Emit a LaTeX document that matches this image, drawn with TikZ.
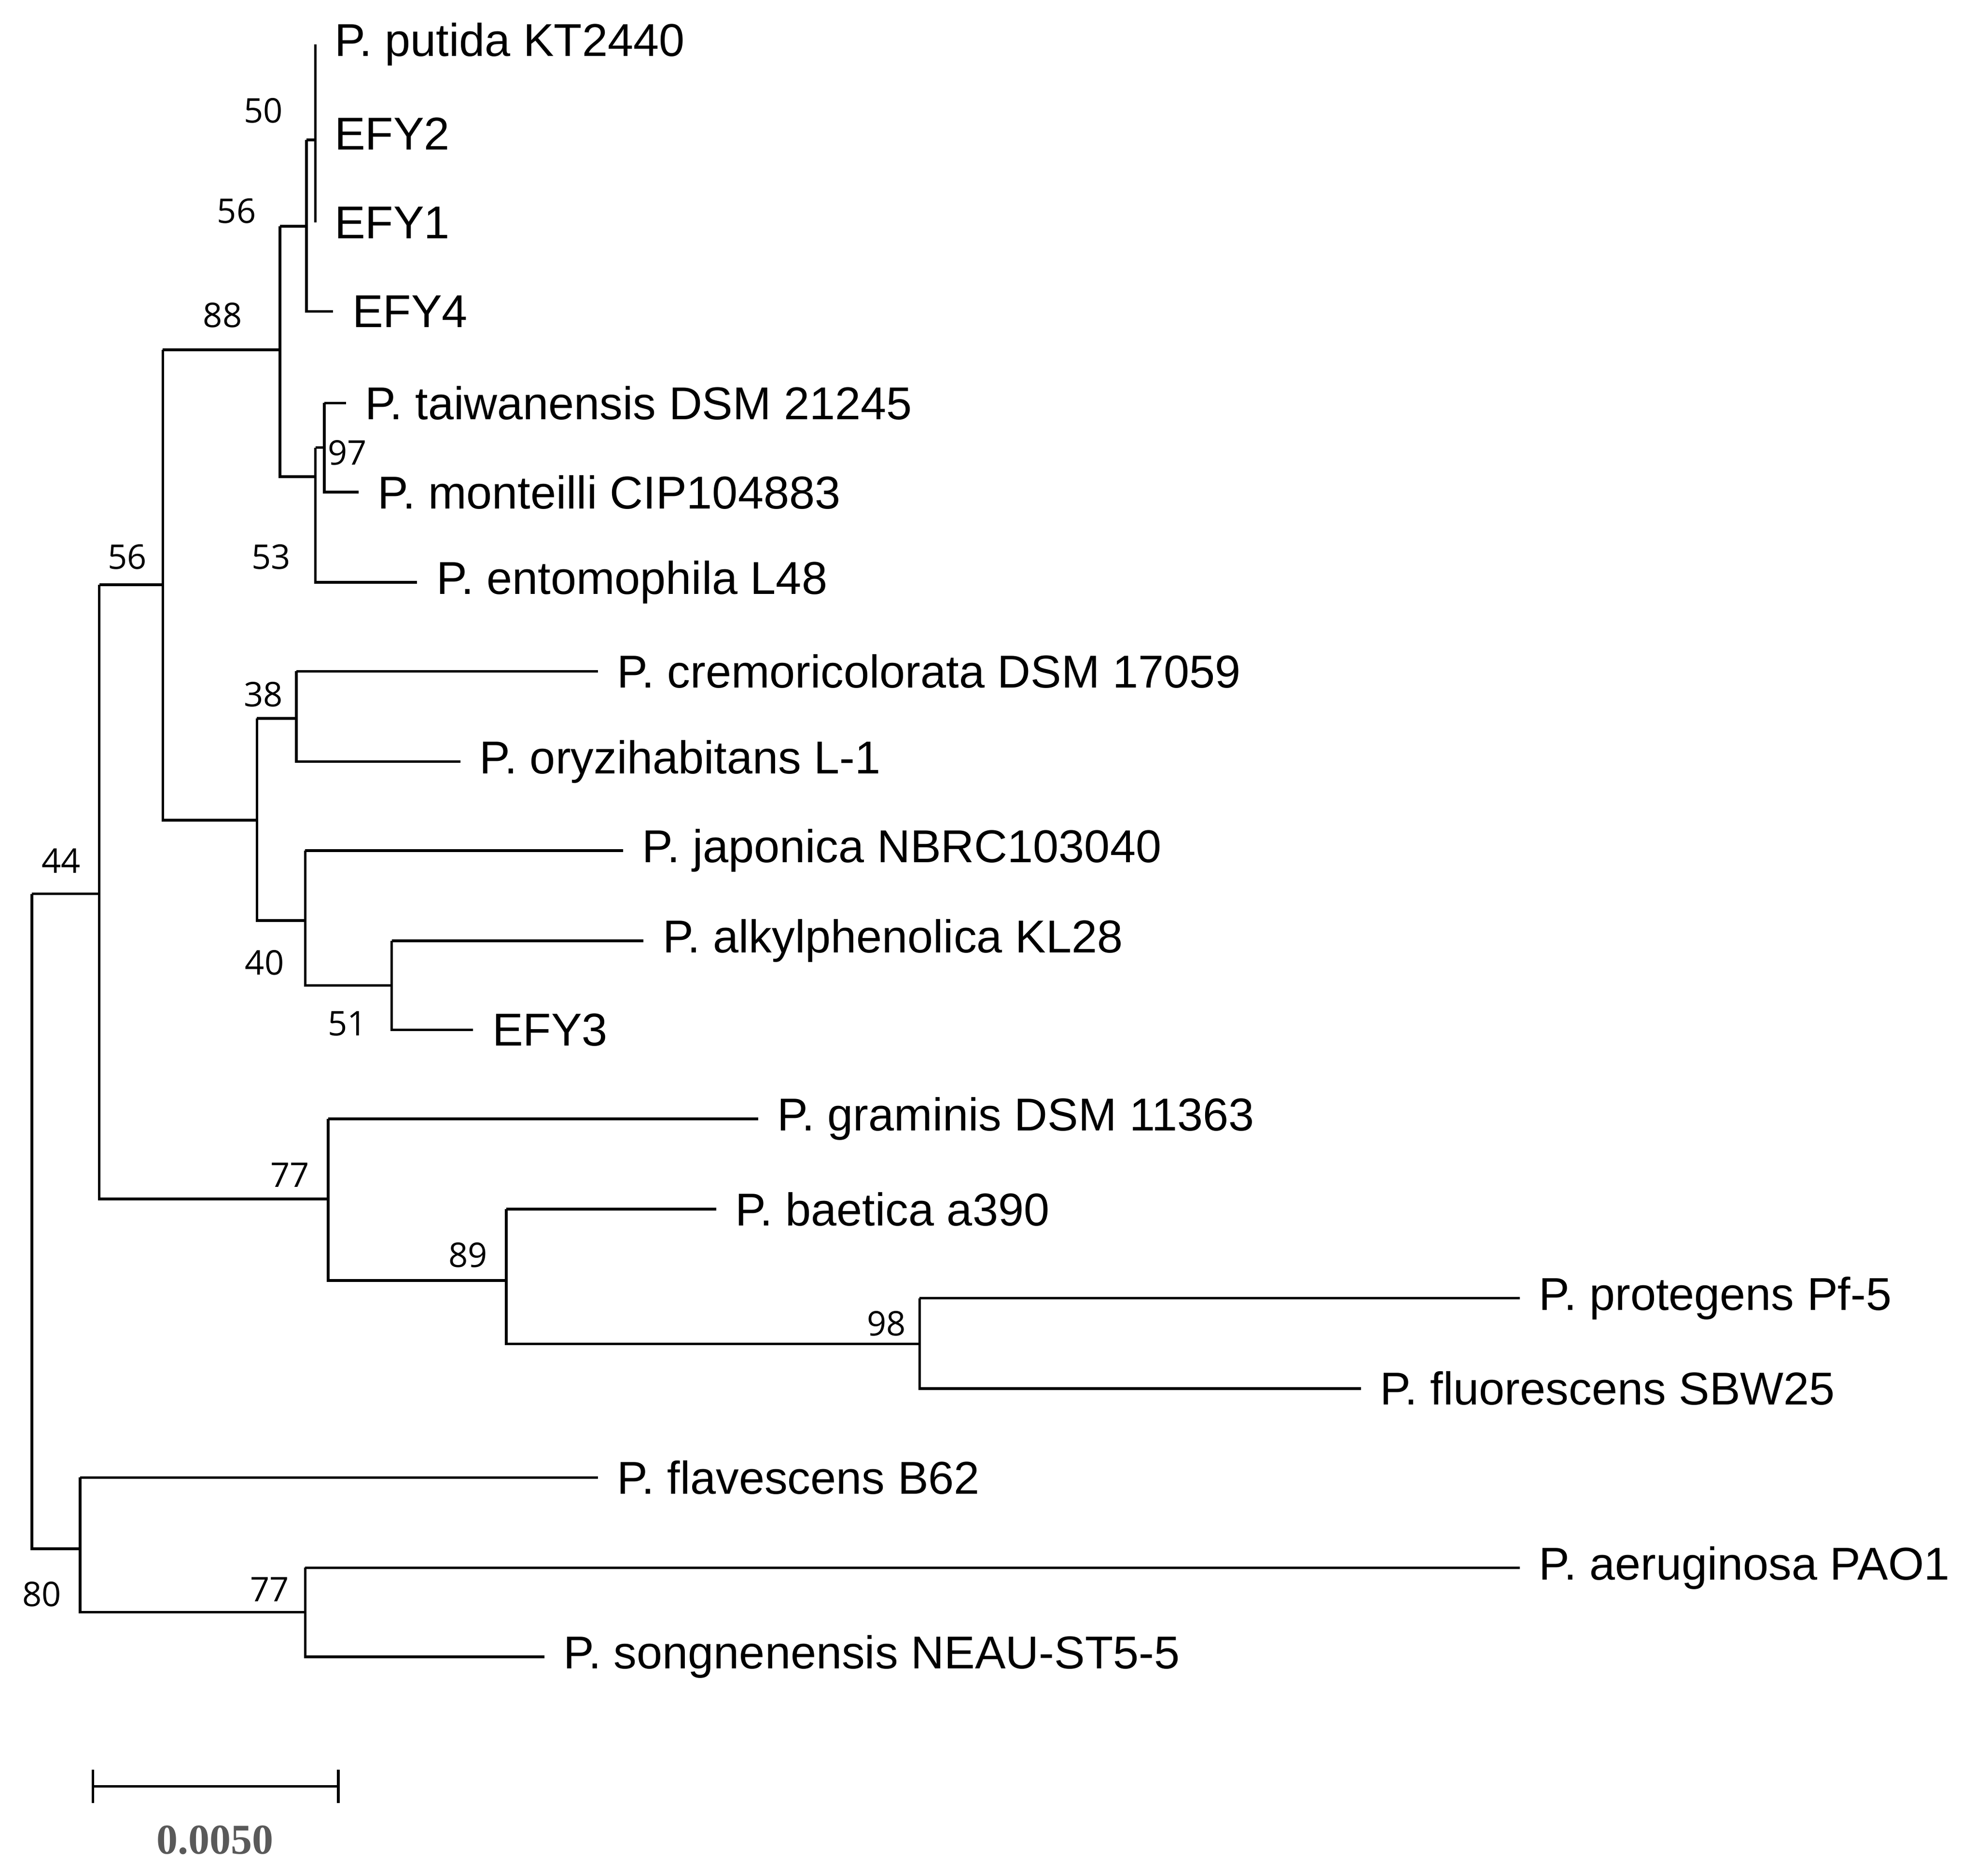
\documentclass[tikz,border=0pt]{standalone}
\usepackage{fontspec}
\setmainfont{Liberation Sans}
\newfontfamily\numf{Open Sans}
\newfontfamily\scalef{Liberation Serif}
\begin{document}
\begin{tikzpicture}[x=0.01cm,y=-0.01cm,line width=0.6pt,
 tip/.style={anchor=west,inner sep=0pt,font=\fontsize{10.3}{12}\selectfont},
 bs/.style={inner sep=0pt,font=\numf\fontsize{7.6}{9}\selectfont}]
\useasboundingbox (0,0) rectangle (1563,1472);
% tips
\foreach \n/\x/\y/\t in {a/248/35/P. putida KT2440, b/248/105/EFY2, c/248/175/EFY1, d/262/245/EFY4,
 e/272/317/P. taiwanensis DSM 21245, f/282/387/P. monteilli CIP104883, g/328/458/P. entomophila L48,
 h/470/528/P. cremoricolorata DSM 17059, i/362/599/P. oryzihabitans L-1, j/490/669/P. japonica NBRC103040,
 k/506/740/P. alkylphenolica KL28, l/372/810/EFY3, m/596/880/P. graminis DSM 11363, n/563/951/P. baetica a390,
 o/1195/1021/P. protegens Pf-5, p/1070/1092/P. fluorescens SBW25, q/470/1162/P. flavescens B62,
 r/1195/1233/P. aeruginosa PAO1, s/428/1303/P. songnenensis NEAU-ST5-5}
 { \coordinate (\n) at (\x,\y); \node[tip] (t\n) at (\x+14,\y) {\t}; }
% internal nodes
\coordinate (N50) at (248,110); \coordinate (N56a) at (241,178);
\coordinate (N97) at (255,352); \coordinate (N53) at (248,375);
\coordinate (N88) at (220,275);
\coordinate (N38) at (233,565); \coordinate (N51) at (308,775); \coordinate (N40a) at (240,724);
\coordinate (N40) at (202,645); \coordinate (N56) at (128,460);
\coordinate (N89) at (398,1007); \coordinate (N98) at (723,1057); \coordinate (N77) at (258,943);
\coordinate (N44) at (78,703); \coordinate (N77b) at (240,1268); \coordinate (N80) at (63,1218);
\coordinate (R) at (25,1218);
\newcommand\cl[2]{\draw (#1 |- #2) -- (#2);}
% putida group
\draw (a) -- (c);
\draw (N56a |- N50) -- (N50);
\draw (N56a |- N50) -- (N56a |- d) -- (d);
% 97/53
\draw (N97 |- e) -- (e); \draw (N97 |- e) -- (N97 |- f) -- (f);
\draw (N53 |- N97) -- (N97);
\draw (N53 |- N97) -- (N53 |- g) -- (g);
% 88
\draw (N88 |- N56a) -- (N56a |- N56a);
\draw (N88 |- N56a) -- (N88 |- N53) -- (N53);
% cremori group
\draw (N38 |- h) -- (h); \draw (N38 |- h) -- (N38 |- i) -- (i);
\draw (N51 |- k) -- (k); \draw (N51 |- k) -- (N51 |- l) -- (l);
\draw (N40a |- j) -- (j); \draw (N40a |- j) -- (N40a |- N51) -- (N51 |- N51);
\draw (N40 |- N38) -- (N38 |- N38); \draw (N40 |- N38) -- (N40 |- N40a) -- (N40a);
% 56
\draw (N56 |- N88) -- (N88); \draw (N56 |- N88) -- (N56 |- N40) -- (N40);
% graminis group
\draw (N98 |- o) -- (o); \draw (N98 |- o) -- (N98 |- p) -- (p);
\draw (N89 |- n) -- (n); \draw (N89 |- n) -- (N89 |- N98) -- (N98);
\draw (N77 |- m) -- (m); \draw (N77 |- m) -- (N77 |- N89) -- (N89);
% 44
\draw (N44 |- N56) -- (N56); \draw (N44 |- N56) -- (N44 |- N77) -- (N77);
% 80
\draw (N77b |- r) -- (r); \draw (N77b |- r) -- (N77b |- s) -- (s);
\draw (N80 |- q) -- (q); \draw (N80 |- q) -- (N80 |- N77b) -- (N77b);
\draw (R |- N44) -- (N44); \draw (R |- N44) -- (R) -- (N80);
% bootstrap labels
\foreach \x/\y/\v in {207/87/50,186/166/56,175/248/88,273/356/97,213/438/53,100/438/56,207/546/38,
 208/757/40,273/805/51,48/677/44,228/924/77,368/987/89,697/1041/98,33/1254/80,212/1250/77}
 \node[bs] (b\x) at (\x,\y) {\v};
% scale bar
\coordinate (s1) at (73,1405); \coordinate (s2) at (266,1405);
\draw (s1) -- (s2);
\draw (73,1392) -- (73,1418); \draw (266,1392) -- (266,1418);
\node[inner sep=0pt,text=black!65,font=\scalef\bfseries\fontsize{9.5}{11}\selectfont] (sl) at (169,1447) {0.0050};
\end{tikzpicture}
\end{document}
